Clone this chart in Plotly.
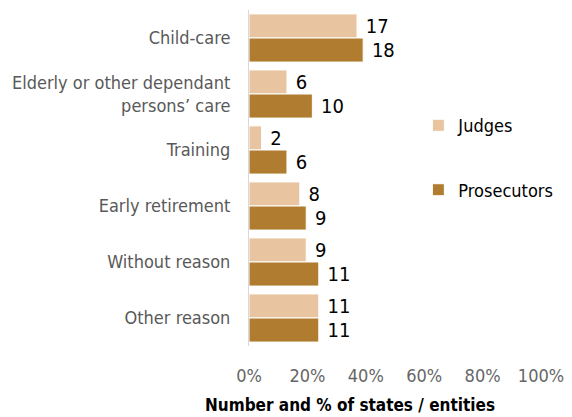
import plotly.graph_objects as go

categories = ["Child-care", "Elderly or other dependant<br>persons’ care", "Training",
              "Early retirement", "Without reason", "Other reason"]
judges_count = [17, 6, 2, 8, 9, 11]
prosecutors_count = [18, 10, 6, 9, 11, 11]
judges_pct = [37.0, 13.0, 4.3, 17.4, 19.6, 23.9]
prosecutors_pct = [39.1, 21.7, 13.0, 19.6, 23.9, 23.9]
x_ticks = [0, 20, 40, 60, 80, 100]
x_tick_labels = ["0%", "20%", "40%", "60%", "80%", "100%"]

W, H = 572, 417
ml, mr, mt, mb = 249, 31, 10, 71
FONT = "DejaVu Sans Condensed, sans-serif"

fig = go.Figure()
fig.add_trace(go.Bar(
    y=categories, x=judges_pct, name="Judges", orientation="h",
    marker=dict(color="#E8C4A0", line=dict(color="white", width=1)),
    text=[" " + str(v) for v in judges_count], textposition="outside",
    textfont=dict(family=FONT, size=20, color="#000000"),
    cliponaxis=False, legendgroup="j",
))
fig.add_trace(go.Bar(
    y=categories, x=prosecutors_pct, name="Prosecutors", orientation="h",
    marker=dict(color="#B07C30", line=dict(color="white", width=1)),
    text=[" " + str(v) for v in prosecutors_count], textposition="outside",
    textfont=dict(family=FONT, size=20, color="#000000"),
    cliponaxis=False, legendgroup="p",
))

fig.update_layout(
    width=W, height=H,
    margin=dict(l=ml, r=mr, t=mt, b=mb, autoexpand=False),
    paper_bgcolor="white", plot_bgcolor="white",
    barmode="group", bargap=0.14, bargroupgap=0,
    font=dict(family=FONT, size=18, color="#595959"),
    showlegend=True,
    legend=dict(x=0.58, y=0.711, xanchor="left", yanchor="top",
                traceorder="grouped", tracegroupgap=38,
                font=dict(size=18, color="#000000"), bgcolor="rgba(0,0,0,0)"),
    xaxis=dict(range=[0, 100], tickvals=x_ticks, ticktext=x_tick_labels,
               showgrid=False, zeroline=False, showline=False, ticks="",
               automargin=False, ticklabelstandoff=17,
               tickfont=dict(size=18, color="#666666"), fixedrange=True),
    yaxis=dict(autorange="reversed", showgrid=False, zeroline=False,
               showline=True, linecolor="#D9D9D9", linewidth=1, ticks="",
               automargin=False, ticklabelstandoff=14, fixedrange=True,
               tickfont=dict(size=18, color="#595959")),
)

fig.add_annotation(
    text="<b>Number and % of states / entities</b>",
    xref="paper", yref="paper", x=(350 - ml) / (W - ml - mr), y=-(405 - (H - mb)) / (H - mt - mb),
    xanchor="center", yanchor="middle", showarrow=False,
    font=dict(family=FONT, size=17, color="#000000"),
)

fig.write_html("out.html", config={"displayModeBar": False},
               post_script="document.body.style.margin='0';document.body.style.padding='0';")
